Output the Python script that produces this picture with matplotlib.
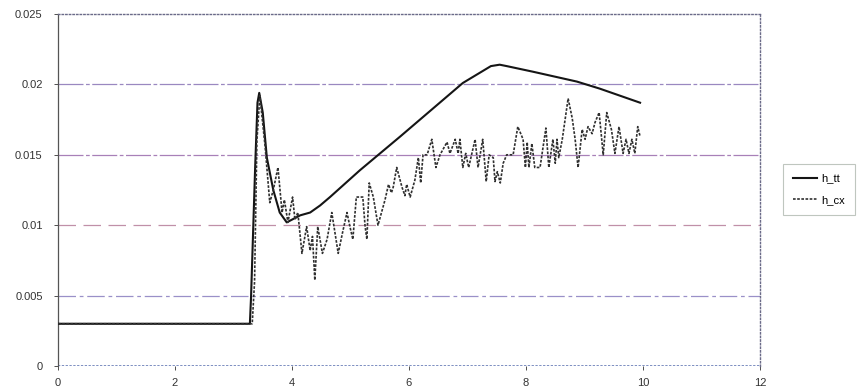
import matplotlib
matplotlib.use("Agg")
import matplotlib.pyplot as plt
from matplotlib.ticker import FixedLocator

x_ticks = [0, 2, 4, 6, 8, 10, 12]
y_ticks = [0, 0.005, 0.01, 0.015, 0.02, 0.025]
y_tick_labels = ["0", "0.005", "0.01", "0.015", "0.02", "0.025"]

tt_x = [0, 3.28, 3.30, 3.37, 3.41, 3.44, 3.50, 3.57, 3.68, 3.79, 3.91, 4.14, 4.31, 4.48,
        4.65, 5.16, 5.85, 6.92, 7.40, 7.55, 7.67, 8.12, 8.87, 9.26, 9.95]
tt_y = [0.003, 0.003, 0.0049, 0.0141, 0.0187, 0.0194, 0.0180, 0.0148, 0.0125, 0.0109,
        0.0102, 0.0107, 0.0109, 0.0114, 0.0120, 0.0139, 0.0163, 0.0201, 0.0213, 0.0214,
        0.0213, 0.0209, 0.0202, 0.0197, 0.0187]

cx_x = [0, 3.32, 3.36, 3.40, 3.45, 3.54, 3.62, 3.68, 3.76, 3.83, 3.87, 3.93, 4.01, 4.05,
        4.10, 4.17, 4.25, 4.31, 4.35, 4.39, 4.44, 4.52, 4.60, 4.68, 4.79, 4.86, 4.94, 4.99,
        5.04, 5.10, 5.21, 5.25, 5.28, 5.32, 5.39, 5.47, 5.53, 5.59, 5.65, 5.70, 5.73, 5.79,
        5.88, 5.93, 5.96, 6.02, 6.10, 6.16, 6.20, 6.24, 6.31, 6.39, 6.46, 6.53, 6.65, 6.70,
        6.79, 6.84, 6.87, 6.92, 6.97, 7.02, 7.13, 7.18, 7.26, 7.32, 7.37, 7.44, 7.47, 7.51,
        7.56, 7.61, 7.67, 7.78, 7.86, 7.95, 7.99, 8.02, 8.05, 8.10, 8.15, 8.24, 8.34, 8.39,
        8.46, 8.50, 8.53, 8.56, 8.62, 8.72, 8.79, 8.84, 8.89, 8.96, 9.01, 9.06, 9.13, 9.18,
        9.25, 9.32, 9.38, 9.46, 9.52, 9.59, 9.66, 9.71, 9.76, 9.81, 9.86, 9.91, 9.95]
cx_y = [0.003, 0.003, 0.0060, 0.0160, 0.0192, 0.0156, 0.0116, 0.0125, 0.0141, 0.0109,
        0.0118, 0.0102, 0.0120, 0.0104, 0.0109, 0.0080, 0.0099, 0.0082, 0.0092, 0.0061,
        0.0099, 0.0080, 0.0090, 0.0109, 0.0080, 0.0094, 0.0109, 0.0099, 0.0090, 0.0120,
        0.0120, 0.0099, 0.0090, 0.0130, 0.0120, 0.0100, 0.0109, 0.0118, 0.0129, 0.0123,
        0.0127, 0.0141, 0.0127, 0.0121, 0.0129, 0.0120, 0.0132, 0.0148, 0.0130, 0.0150,
        0.0150, 0.0161, 0.0141, 0.0150, 0.0159, 0.0151, 0.0161, 0.0151, 0.0161, 0.0141,
        0.0151, 0.0141, 0.0161, 0.0141, 0.0161, 0.0131, 0.0150, 0.0148, 0.0131, 0.0138,
        0.0130, 0.0144, 0.0150, 0.0150, 0.0170, 0.0161, 0.0141, 0.0159, 0.0141, 0.0158,
        0.0141, 0.0141, 0.0169, 0.0141, 0.0161, 0.0144, 0.0161, 0.0148, 0.0161, 0.0190,
        0.0176, 0.0161, 0.0141, 0.0168, 0.0161, 0.0170, 0.0165, 0.0173, 0.0180, 0.0150,
        0.0180, 0.0168, 0.0151, 0.0170, 0.0151, 0.0161, 0.0151, 0.0161, 0.0151, 0.0170,
        0.0163]

grid_styles = [("#9a90c8", (0, (14, 3, 3, 3))),
               ("#c090a8", (0, (14, 6))),
               ("#a880b8", (0, (20, 2, 3, 2))),
               ("#9a88c0", (0, (20, 2, 3, 2)))]

plt.rcParams['font.family'] = ['Liberation Sans', 'DejaVu Sans']
fig = plt.figure(figsize=(8.61, 3.91), dpi=100)
ax = fig.add_axes([58 / 861, 1 - 366 / 391, (760 - 58) / 861, (366 - 14) / 391])

for yv, (c, ls) in zip(y_ticks[1:5], grid_styles):
    ax.axhline(yv, color=c, lw=0.9, ls=ls, zorder=1)
ax.axhline(0, color="#5a70b0", lw=1.1, ls=(0, (1.5, 1)), zorder=1)

l1, = ax.plot(tt_x, tt_y, color="#151515", lw=1.5, zorder=3, label="h_tt")
l2, = ax.plot(cx_x, cx_y, color="#303030", lw=1.2, ls=(0, (1.6, 0.9)), zorder=4, label="h_cx")

ax.set_xlim(0, 12)
ax.set_ylim(0, 0.025)
ax.xaxis.set_major_locator(FixedLocator(x_ticks))
ax.yaxis.set_major_locator(FixedLocator(y_ticks))
ax.set_xticklabels([str(t) for t in x_ticks])
ax.set_yticklabels(y_tick_labels)
ax.tick_params(axis='both', labelsize=8, colors="#333333", length=3, width=0.6)
ax.tick_params(axis='x', pad=6)
ax.tick_params(axis='y', pad=8)

for side in ['top', 'right']:
    ax.spines[side].set_linestyle((0, (1, 1.6)))
    ax.spines[side].set_color("#6a6a88")
    ax.spines[side].set_linewidth(1.0)
ax.spines['left'].set_color("#555555")
ax.spines['left'].set_linestyle((0, (3, 1)))
ax.spines['left'].set_linewidth(0.9)
ax.spines['bottom'].set_visible(False)

leg = fig.legend(handles=[l1, l2], loc='upper left',
                 bbox_to_anchor=(777 / 861, 1 - 158 / 391),
                 fontsize=8, frameon=True, fancybox=False, handlelength=2.2,
                 borderpad=0.9, labelspacing=1.0, handletextpad=0.4)
leg.get_frame().set_edgecolor("#b0b8b0")
leg.get_frame().set_linewidth(0.8)

fig.savefig("out.png", dpi=100)
